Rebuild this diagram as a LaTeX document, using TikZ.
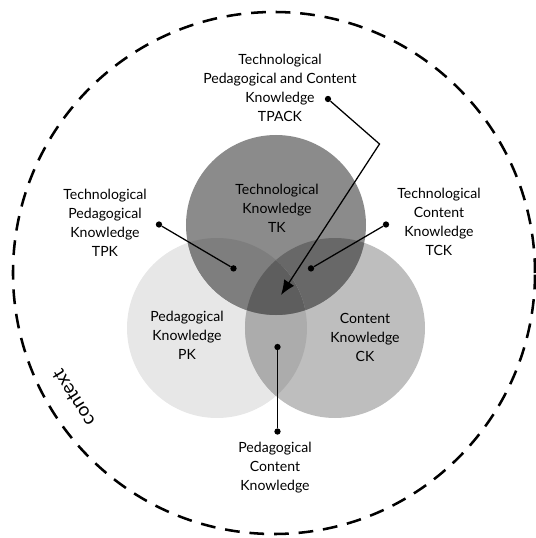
\documentclass[tikz,border=0pt]{standalone}
\usepackage{fontspec}
\setmainfont{Lato}
\usetikzlibrary{positioning,arrows.meta}
\definecolor{pkgray}{gray}{0.905}
\definecolor{ckgray}{gray}{0.745}
\definecolor{tkgray}{gray}{0.545}
\definecolor{pckgray}{gray}{0.674}
\definecolor{tpkgray}{gray}{0.493}
\definecolor{tckgray}{gray}{0.406}
\definecolor{tpackgray}{gray}{0.368}
\tikzset{
    every node/.style={font=\fontsize{10}{13.5}\selectfont},
    tagtext/.style={align=center, inner sep=1pt},
    dot/.style={circle, fill=black, inner sep=0pt, minimum size=4.5pt},
    link/.style={line width=0.9pt},
    arrow/.style={-{Latex[length=10.5pt,width=8.5pt]}, line width=0.9pt},
    ctxline/.style={line width=1.8pt, dash pattern=on 10.5pt off 7pt},
}

\begin{document}
\begin{tikzpicture}[x=0.25cm, y=0.25cm]
   \useasboundingbox (-27.6,-26.5) rectangle (26.0,27.3);
% the context ring and its word
   \draw[ctxline] (-0.2,0) circle (26.1);
   \node[rotate=122, font=\fontsize{13.5}{15}\selectfont] (ctx) at (-20.25,-12.5) {context};
% three knowledge circles, the overlaps filled by clipping
   \fill[pkgray] (-5.9,-5.5) circle (9);
   \fill[ckgray] (5.9,-5.5) circle (9);
   \fill[tkgray] (0,4.8) circle (9);
   \begin{scope}
      \clip (5.9,-5.5) circle (9);
      \fill[tckgray] (0,4.8) circle (9);
   \end{scope}
   \begin{scope}
      \clip (-5.9,-5.5) circle (9);
      \fill[pckgray] (5.9,-5.5) circle (9);
      \fill[tpkgray] (0,4.8) circle (9);
      \clip (5.9,-5.5) circle (9);
      \fill[tpackgray] (0,4.8) circle (9);
   \end{scope}
   \node[tagtext] (tk) at (0.1,6.45) {Technological\\Knowledge\\TK};
   \node[tagtext] (pk) at (-8.9,-6.2) {Pedagogical\\Knowledge\\PK};
   \node[tagtext] (ck) at (8.9,-6.4) {Content\\Knowledge\\CK};
% outer labels with their pointers
   \node[tagtext] (tpack) at (0.4,18.5) {Technological\\Pedagogical and Content\\Knowledge\\TPACK};
   \node[tagtext] (tpk) at (-17.1,5.0) {Technological\\Pedagogical\\Knowledge\\TPK};
   \node[tagtext] (tck) at (16.3,5.1) {Technological\\Content\\Knowledge\\TCK};
   \node[tagtext] (pck) at (-0.1,-19.5) {Pedagogical\\Content\\Knowledge};
   \node[dot] (tpackA) at (5.2,17.4) {};
   \coordinate (tpackB) at (10.35,12.9);
   \coordinate (tpackC) at (0.5,-2.2);
   \node[dot] (tpkA) at (-11.7,4.85) {};
   \node[dot] (tpkB) at (-4.25,0.46) {};
   \node[dot] (tckA) at (11.0,4.85) {};
   \node[dot] (tckB) at (3.5,0.46) {};
   \node[dot] (pckA) at (0.15,-7.4) {};
   \node[dot] (pckB) at (0.15,-15.85) {};
   \draw[arrow] (tpackA) -- (tpackB) -- (tpackC);
   \draw[link] (tpkA) -- (tpkB);
   \draw[link] (tckA) -- (tckB);
   \draw[link] (pckA) -- (pckB);
\end{tikzpicture}
\end{document}
